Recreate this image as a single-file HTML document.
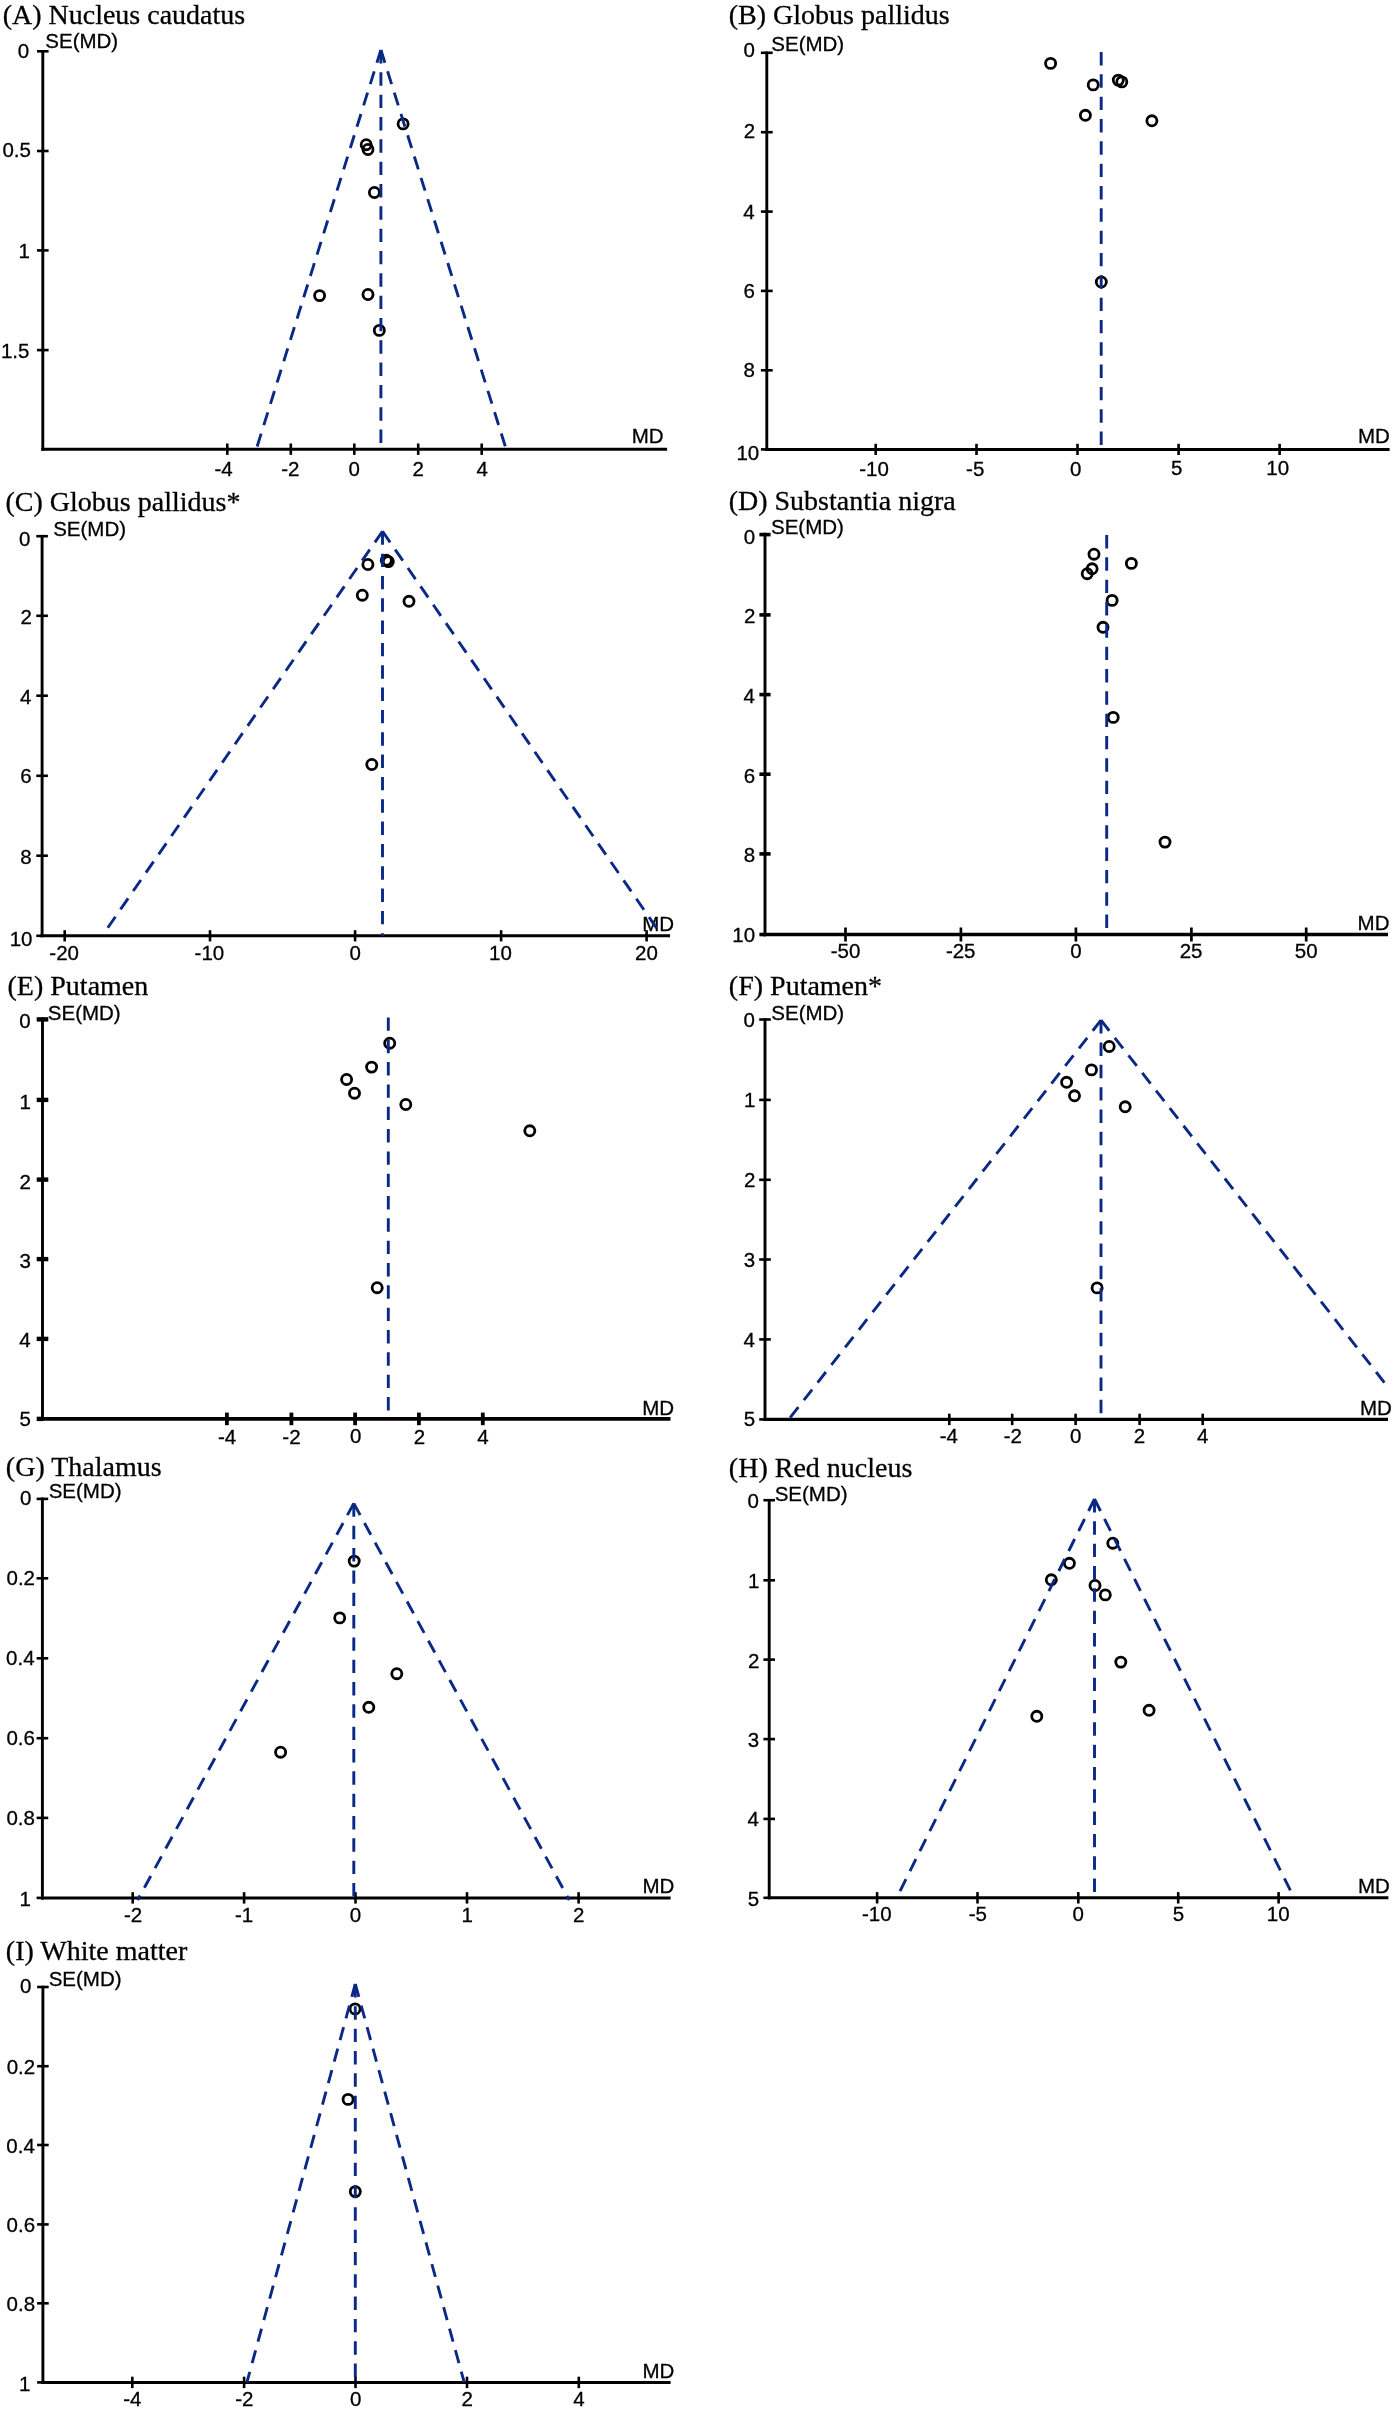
<!DOCTYPE html>
<html><head><meta charset="utf-8"><style>
html,body{margin:0;padding:0;background:#fff;overflow:hidden;}
svg{display:block;will-change:transform;}
text{-webkit-font-smoothing:antialiased;}
.t{font-family:"Liberation Serif",serif;font-size:28px;fill:#000;stroke:#000;stroke-width:0.3px;}
.n{font-family:"Liberation Sans",sans-serif;font-size:20.5px;fill:#000;stroke:#000;stroke-width:0.3px;}
.k{stroke:#000;fill:none;}
.d{stroke:#0a2886;stroke-width:2.9;fill:none;stroke-dasharray:13.4 8.93;}
.c{stroke:#000;stroke-width:2.8;fill:none;}
</style></head><body>
<svg width="1395" height="2410" viewBox="0 0 1395 2410">
<g><text class="t" x="2.65" y="23.7">(A) Nucleus caudatus</text><text class="n" x="45.3" y="47.8">SE(MD)</text><text class="n" x="631.8" y="442.7">MD</text><path class="k" stroke-width="2.9" d="M42.8 50V450.65"/><path class="k" stroke-width="2.9" d="M41.35 449.2H667.1"/><path class="k" stroke-width="2.6" d="M37 51.3H48.6"/><text class="n" x="17.68" y="58.26">0</text><path class="k" stroke-width="2.6" d="M37 151H48.6"/><text class="n" x="2.48" y="157.46">0.5</text><path class="k" stroke-width="2.6" d="M37 250.4H48.6"/><text class="n" x="18.62" y="258.36">1</text><path class="k" stroke-width="2.6" d="M37 350.1H48.6"/><text class="n" x="0.98" y="358.34">1.5</text><path class="k" stroke-width="2.6" d="M227.3 443.5V454.9"/><text class="n" x="214.45" y="476.2">-4</text><path class="k" stroke-width="2.6" d="M290.8 443.5V454.9"/><text class="n" x="281.24" y="476.2">-2</text><path class="k" stroke-width="2.6" d="M354.3 443.5V454.9"/><text class="n" x="348.61" y="476.15">0</text><path class="k" stroke-width="2.6" d="M418.2 443.5V454.9"/><text class="n" x="412.61" y="476.2">2</text><path class="k" stroke-width="2.6" d="M481.7 443.5V454.9"/><text class="n" x="476.38" y="476.2">4</text><circle class="c" cx="403.1" cy="123.9" r="5.05"/><circle class="c" cx="366.2" cy="144.7" r="5.05"/><circle class="c" cx="368" cy="149.5" r="5.05"/><circle class="c" cx="374.4" cy="192.5" r="5.05"/><circle class="c" cx="319.6" cy="295.6" r="5.05"/><circle class="c" cx="368" cy="294.5" r="5.05"/><circle class="c" cx="379.3" cy="330.4" r="5.05"/><path class="d" d="M380.9 50L256.3 449.2"/><path class="d" d="M380.9 50L506.2 449.2"/><path class="d" d="M380.9 50V449.2"/></g>
<g><text class="t" x="728.75" y="23.7">(B) Globus pallidus</text><text class="n" x="771.3" y="50.6">SE(MD)</text><text class="n" x="1358" y="443.1">MD</text><path class="k" stroke-width="2.9" d="M766.8 51.5V450.9"/><path class="k" stroke-width="3.0" d="M765.35 449.4H1389.6"/><path class="k" stroke-width="2.6" d="M760.9 52.8H772.7"/><text class="n" x="743.48" y="57.36">0</text><path class="k" stroke-width="2.6" d="M760.9 132.2H772.7"/><text class="n" x="743.73" y="138.39">2</text><path class="k" stroke-width="2.6" d="M760.9 211.6H772.7"/><text class="n" x="743.35" y="218.76">4</text><path class="k" stroke-width="2.6" d="M760.9 290.9H772.7"/><text class="n" x="743.6" y="298.06">6</text><path class="k" stroke-width="2.6" d="M760.9 370.3H772.7"/><text class="n" x="743.6" y="377.36">8</text><path class="k" stroke-width="2.6" d="M760.9 449.4H766.8"/><text class="n" x="736.4" y="459.56">10</text><path class="k" stroke-width="2.6" d="M875.7 443.8V455"/><text class="n" x="859.23" y="475.95">-10</text><path class="k" stroke-width="2.6" d="M976.5 443.8V455"/><text class="n" x="966.08" y="475.95">-5</text><path class="k" stroke-width="2.6" d="M1077.5 443.8V455"/><text class="n" x="1069.91" y="475.95">0</text><path class="k" stroke-width="2.6" d="M1178.6 443.8V455"/><text class="n" x="1171.01" y="475.35">5</text><path class="k" stroke-width="2.6" d="M1279.6 443.8V455"/><text class="n" x="1266.29" y="475.35">10</text><circle class="c" cx="1050.6" cy="63.4" r="5.05"/><circle class="c" cx="1093.2" cy="84.9" r="5.05"/><circle class="c" cx="1118.3" cy="80.1" r="5.05"/><circle class="c" cx="1121.8" cy="81.9" r="5.05"/><circle class="c" cx="1085.4" cy="115.3" r="5.05"/><circle class="c" cx="1151.9" cy="120.8" r="5.05"/><circle class="c" cx="1101.3" cy="282" r="5.05"/><path class="d" d="M1101.2 52V449.4"/></g>
<g><text class="t" x="5.55" y="511.3">(C) Globus pallidus*</text><text class="n" x="53.2" y="535.7">SE(MD)</text><text class="n" x="642.2" y="931.4">MD</text><path class="k" stroke-width="2.9" d="M42.1 534.9V937.3"/><path class="k" stroke-width="3.0" d="M40.65 935.8H670"/><path class="k" stroke-width="2.6" d="M36.3 536.2H47.9"/><text class="n" x="18.98" y="545.56">0</text><path class="k" stroke-width="2.6" d="M36.3 615.8H47.9"/><text class="n" x="20.43" y="624.49">2</text><path class="k" stroke-width="2.6" d="M36.3 695.7H47.9"/><text class="n" x="20.05" y="704.06">4</text><path class="k" stroke-width="2.6" d="M36.3 775.8H47.9"/><text class="n" x="20.3" y="783.46">6</text><path class="k" stroke-width="2.6" d="M36.3 855.7H47.9"/><text class="n" x="20.3" y="863.76">8</text><path class="k" stroke-width="2.6" d="M36.3 935.8H42.1"/><text class="n" x="9.7" y="946.06">10</text><path class="k" stroke-width="2.6" d="M64.7 930.2V941.4"/><text class="n" x="49.33" y="959.55">-20</text><path class="k" stroke-width="2.6" d="M210 930.2V941.4"/><text class="n" x="194.62" y="959.55">-10</text><path class="k" stroke-width="2.6" d="M355.1 930.2V941.4"/><text class="n" x="349.61" y="959.55">0</text><path class="k" stroke-width="2.6" d="M501.1 930.2V941.4"/><text class="n" x="488.99" y="959.55">10</text><path class="k" stroke-width="2.6" d="M646.6 930.2V941.4"/><text class="n" x="635" y="959.55">20</text><circle class="c" cx="367.9" cy="564.5" r="5.05"/><circle class="c" cx="386.3" cy="560.2" r="5.05"/><circle class="c" cx="388.3" cy="561.6" r="5.05"/><circle class="c" cx="362.3" cy="595.2" r="5.05"/><circle class="c" cx="409" cy="601.3" r="5.05"/><circle class="c" cx="371.8" cy="764.5" r="5.05"/><path class="d" d="M382.5 531.3L106.57 929.5"/><path class="d" d="M382.5 531.3L657.55 929.5"/><path class="d" d="M382.5 531.3V935.8"/></g>
<g><text class="t" x="728.65" y="510.1">(D) Substantia nigra</text><text class="n" x="771" y="533.7">SE(MD)</text><text class="n" x="1357.6" y="930">MD</text><path class="k" stroke-width="2.9" d="M765 532.8V936.15"/><path class="k" stroke-width="3.3" d="M763.55 934.5H1388"/><path class="k" stroke-width="3.6" d="M759.4 534.6H770.6"/><text class="n" x="743.67" y="543.56">0</text><path class="k" stroke-width="3.6" d="M759.4 614.9H770.6"/><text class="n" x="743.92" y="622.99">2</text><path class="k" stroke-width="3.6" d="M759.4 694.6H770.6"/><text class="n" x="743.55" y="703.16">4</text><path class="k" stroke-width="3.6" d="M759.4 774.2H770.6"/><text class="n" x="743.8" y="782.56">6</text><path class="k" stroke-width="3.6" d="M759.4 853.9H770.6"/><text class="n" x="743.8" y="861.86">8</text><path class="k" stroke-width="3.6" d="M759.4 934.5H765"/><text class="n" x="732.3" y="942.06">10</text><path class="k" stroke-width="2.7" d="M845.5 927.5V941.5"/><text class="n" x="830.73" y="958.35">-50</text><path class="k" stroke-width="2.7" d="M960.9 927.5V941.5"/><text class="n" x="945.89" y="958.35">-25</text><path class="k" stroke-width="2.7" d="M1075.9 927.5V941.5"/><text class="n" x="1070.21" y="958.35">0</text><path class="k" stroke-width="2.7" d="M1191.4 927.5V941.5"/><text class="n" x="1179.66" y="958.15">25</text><path class="k" stroke-width="2.7" d="M1306.2 927.5V941.5"/><text class="n" x="1294.76" y="958.15">50</text><circle class="c" cx="1094" cy="554.2" r="5.05"/><circle class="c" cx="1131.4" cy="563.4" r="5.05"/><circle class="c" cx="1092.1" cy="568.8" r="5.05"/><circle class="c" cx="1087.2" cy="573.7" r="5.05"/><circle class="c" cx="1112.1" cy="600.4" r="5.05"/><circle class="c" cx="1103" cy="627.3" r="5.05"/><circle class="c" cx="1113.2" cy="717.4" r="5.05"/><circle class="c" cx="1165" cy="842.1" r="5.05"/><path class="d" d="M1106.7 535V934.5"/></g>
<g><text class="t" x="7.55" y="994.5">(E) Putamen</text><text class="n" x="47.8" y="1020.1">SE(MD)</text><text class="n" x="642.2" y="1414.7">MD</text><path class="k" stroke-width="2.9" d="M42.5 1017.2V1420.85"/><path class="k" stroke-width="3.9" d="M41.05 1418.9H670.5"/><path class="k" stroke-width="4.4" d="M36.7 1019.4H48.3"/><text class="n" x="19.18" y="1028.06">0</text><path class="k" stroke-width="4.4" d="M36.7 1099.9H48.3"/><text class="n" x="19.52" y="1108.86">1</text><path class="k" stroke-width="4.4" d="M36.7 1179.6H48.3"/><text class="n" x="19.52" y="1188.69">2</text><path class="k" stroke-width="4.4" d="M36.7 1259.1H48.3"/><text class="n" x="19.4" y="1267.56">3</text><path class="k" stroke-width="4.4" d="M36.7 1338.9H48.3"/><text class="n" x="19.15" y="1346.86">4</text><path class="k" stroke-width="4.4" d="M36.7 1418.9H42.5"/><text class="n" x="19.4" y="1426.14">5</text><path class="k" stroke-width="3.8" d="M226.9 1412.6V1425.2"/><text class="n" x="217.95" y="1443.7">-4</text><path class="k" stroke-width="3.8" d="M291.4 1412.6V1425.2"/><text class="n" x="282.34" y="1443.7">-2</text><path class="k" stroke-width="3.8" d="M355.1 1412.6V1425.2"/><text class="n" x="349.91" y="1443.45">0</text><path class="k" stroke-width="3.8" d="M418.9 1412.6V1425.2"/><text class="n" x="413.71" y="1443.7">2</text><path class="k" stroke-width="3.8" d="M482.8 1412.6V1425.2"/><text class="n" x="477.18" y="1443.7">4</text><circle class="c" cx="389.7" cy="1043.2" r="5.05"/><circle class="c" cx="371.6" cy="1067.1" r="5.05"/><circle class="c" cx="346.6" cy="1079.5" r="5.05"/><circle class="c" cx="354.5" cy="1093.2" r="5.05"/><circle class="c" cx="405.8" cy="1104.5" r="5.05"/><circle class="c" cx="529.8" cy="1130.8" r="5.05"/><circle class="c" cx="377.2" cy="1287.7" r="5.05"/><path class="d" d="M388.3 1017.4V1418.9"/></g>
<g><text class="t" x="728.85" y="995.2">(F) Putamen*</text><text class="n" x="771.3" y="1019.7">SE(MD)</text><text class="n" x="1359.9" y="1414.8">MD</text><path class="k" stroke-width="2.9" d="M765 1018.2V1421.05"/><path class="k" stroke-width="3.3" d="M763.55 1419.4H1388"/><path class="k" stroke-width="2.6" d="M759.2 1019.5H770.8"/><text class="n" x="743.58" y="1027.06">0</text><path class="k" stroke-width="2.6" d="M759.2 1099.9H770.8"/><text class="n" x="743.92" y="1107.46">1</text><path class="k" stroke-width="2.6" d="M759.2 1179.8H770.8"/><text class="n" x="743.92" y="1187.39">2</text><path class="k" stroke-width="2.6" d="M759.2 1259.5H770.8"/><text class="n" x="743.8" y="1267.16">3</text><path class="k" stroke-width="2.6" d="M759.2 1339.4H770.8"/><text class="n" x="743.55" y="1346.86">4</text><path class="k" stroke-width="2.6" d="M759.2 1419.4H765"/><text class="n" x="743.8" y="1426.14">5</text><path class="k" stroke-width="2.6" d="M949.3 1413.7V1425.1"/><text class="n" x="939.65" y="1443.4">-4</text><path class="k" stroke-width="2.6" d="M1012.2 1413.7V1425.1"/><text class="n" x="1003.74" y="1443.4">-2</text><path class="k" stroke-width="2.6" d="M1075.6 1413.7V1425.1"/><text class="n" x="1070.11" y="1443.15">0</text><path class="k" stroke-width="2.6" d="M1139.6 1413.7V1425.1"/><text class="n" x="1133.71" y="1443.4">2</text><path class="k" stroke-width="2.6" d="M1202.7 1413.7V1425.1"/><text class="n" x="1196.97" y="1443.4">4</text><circle class="c" cx="1109.2" cy="1046.5" r="5.05"/><circle class="c" cx="1091.5" cy="1069.9" r="5.05"/><circle class="c" cx="1066.6" cy="1082.3" r="5.05"/><circle class="c" cx="1074.5" cy="1095.8" r="5.05"/><circle class="c" cx="1125.2" cy="1106.8" r="5.05"/><circle class="c" cx="1097.1" cy="1287.9" r="5.05"/><path class="d" d="M1101 1020.2L788.8 1419.4"/><path class="d" d="M1101 1020.2L1388 1387.2"/><path class="d" d="M1101 1020.2V1419.4"/></g>
<g><text class="t" x="5.85" y="1476.3">(G) Thalamus</text><text class="n" x="48.7" y="1497.6">SE(MD)</text><text class="n" x="642.4" y="1893.3">MD</text><path class="k" stroke-width="2.9" d="M42.4 1497.6V1899.4"/><path class="k" stroke-width="3.0" d="M40.95 1897.9H670.6"/><path class="k" stroke-width="2.6" d="M36.6 1498.9H48.2"/><text class="n" x="19.88" y="1505.46">0</text><path class="k" stroke-width="2.6" d="M36.6 1578.3H48.2"/><text class="n" x="6.5" y="1585.06">0.2</text><path class="k" stroke-width="2.6" d="M36.6 1658.3H48.2"/><text class="n" x="6.12" y="1665.36">0.4</text><path class="k" stroke-width="2.6" d="M36.6 1738.2H48.2"/><text class="n" x="6.38" y="1745.26">0.6</text><path class="k" stroke-width="2.6" d="M36.6 1817.9H48.2"/><text class="n" x="6.38" y="1824.96">0.8</text><path class="k" stroke-width="2.6" d="M36.6 1897.9H42.4"/><text class="n" x="19.52" y="1906.06">1</text><path class="k" stroke-width="2.6" d="M132.7 1892.2V1903.6"/><text class="n" x="123.94" y="1922">-2</text><path class="k" stroke-width="2.6" d="M244.1 1892.2V1903.6"/><text class="n" x="235.04" y="1922">-1</text><path class="k" stroke-width="2.6" d="M355.5 1892.2V1903.6"/><text class="n" x="349.71" y="1921.75">0</text><path class="k" stroke-width="2.6" d="M467 1892.2V1903.6"/><text class="n" x="461.4" y="1922">1</text><path class="k" stroke-width="2.6" d="M578.6 1892.2V1903.6"/><text class="n" x="573.01" y="1922">2</text><circle class="c" cx="354.2" cy="1561.1" r="5.05"/><circle class="c" cx="339.7" cy="1617.9" r="5.05"/><circle class="c" cx="396.8" cy="1673.7" r="5.05"/><circle class="c" cx="368.8" cy="1707.3" r="5.05"/><circle class="c" cx="280.6" cy="1752.2" r="5.05"/><path class="d" d="M353.8 1503.4L137.66 1900"/><path class="d" d="M353.8 1503.4L569.24 1900"/><path class="d" d="M353.8 1503.4V1897.9"/></g>
<g><text class="t" x="728.85" y="1476.9">(H) Red nucleus</text><text class="n" x="774.7" y="1500.6">SE(MD)</text><text class="n" x="1358" y="1893.1">MD</text><path class="k" stroke-width="2.9" d="M769.2 1498.9V1899.3"/><path class="k" stroke-width="3.0" d="M767.75 1897.8H1388.4"/><path class="k" stroke-width="2.6" d="M763.4 1500.2H775"/><text class="n" x="747.58" y="1507.66">0</text><path class="k" stroke-width="2.6" d="M763.4 1580.3H775"/><text class="n" x="747.92" y="1587.86">1</text><path class="k" stroke-width="2.6" d="M763.4 1659.6H775"/><text class="n" x="747.92" y="1667.89">2</text><path class="k" stroke-width="2.6" d="M763.4 1739.1H775"/><text class="n" x="747.8" y="1746.96">3</text><path class="k" stroke-width="2.6" d="M763.4 1818.9H775"/><text class="n" x="747.55" y="1826.46">4</text><path class="k" stroke-width="2.6" d="M763.4 1897.8H769.2"/><text class="n" x="747.8" y="1905.54">5</text><path class="k" stroke-width="2.6" d="M877.1 1892.1V1903.5"/><text class="n" x="862.02" y="1921.05">-10</text><path class="k" stroke-width="2.6" d="M977.5 1892.1V1903.5"/><text class="n" x="968.67" y="1921.05">-5</text><path class="k" stroke-width="2.6" d="M1078.3 1892.1V1903.5"/><text class="n" x="1072.41" y="1921.05">0</text><path class="k" stroke-width="2.6" d="M1178.2 1892.1V1903.5"/><text class="n" x="1172.71" y="1921.05">5</text><path class="k" stroke-width="2.6" d="M1278.6 1892.1V1903.5"/><text class="n" x="1266.79" y="1921.05">10</text><circle class="c" cx="1112.8" cy="1543.2" r="5.05"/><circle class="c" cx="1069.4" cy="1563.3" r="5.05"/><circle class="c" cx="1051.3" cy="1579.8" r="5.05"/><circle class="c" cx="1095" cy="1585.5" r="5.05"/><circle class="c" cx="1105.3" cy="1594.9" r="5.05"/><circle class="c" cx="1120.8" cy="1662.1" r="5.05"/><circle class="c" cx="1149.1" cy="1710.3" r="5.05"/><circle class="c" cx="1036.8" cy="1716.3" r="5.05"/><path class="d" d="M1094.5 1499L896.7 1897.8"/><path class="d" d="M1094.5 1499L1294.1 1897.8"/><path class="d" d="M1094.5 1499V1897.8"/></g>
<g><text class="t" x="5.85" y="1960.4">(I) White matter</text><text class="n" x="48.7" y="1986.2">SE(MD)</text><text class="n" x="642.4" y="2378.3">MD</text><path class="k" stroke-width="2.9" d="M42.9 1985.7V2383.9"/><path class="k" stroke-width="3.0" d="M41.45 2382.4H670.6"/><path class="k" stroke-width="2.6" d="M37.1 1987H48.7"/><text class="n" x="19.98" y="1993.26">0</text><path class="k" stroke-width="2.6" d="M37.1 2066.2H48.7"/><text class="n" x="6.7" y="2073.56">0.2</text><path class="k" stroke-width="2.6" d="M37.1 2145H48.7"/><text class="n" x="6.33" y="2152.66">0.4</text><path class="k" stroke-width="2.6" d="M37.1 2224.4H48.7"/><text class="n" x="6.58" y="2232.06">0.6</text><path class="k" stroke-width="2.6" d="M37.1 2303.3H48.7"/><text class="n" x="6.58" y="2310.86">0.8</text><path class="k" stroke-width="2.6" d="M37.1 2382.4H42.9"/><text class="n" x="19.12" y="2391.16">1</text><path class="k" stroke-width="2.6" d="M132.3 2376.7V2388.1"/><text class="n" x="123.25" y="2406.3">-4</text><path class="k" stroke-width="2.6" d="M244.1 2376.7V2388.1"/><text class="n" x="235.24" y="2406.3">-2</text><path class="k" stroke-width="2.6" d="M355.5 2376.7V2388.1"/><text class="n" x="350.11" y="2406.05">0</text><path class="k" stroke-width="2.6" d="M467 2376.7V2388.1"/><text class="n" x="461.41" y="2406.3">2</text><path class="k" stroke-width="2.6" d="M578.8 2376.7V2388.1"/><text class="n" x="573.27" y="2406.3">4</text><circle class="c" cx="355.1" cy="2008.9" r="5.05"/><circle class="c" cx="348.1" cy="2099.4" r="5.05"/><circle class="c" cx="355.3" cy="2191.6" r="5.05"/><path class="d" d="M355.3 1984L246.9 2382.4"/><path class="d" d="M355.3 1984L464.2 2382.4"/><path class="d" d="M355.3 1984V2382.4"/></g>
</svg>
</body></html>
